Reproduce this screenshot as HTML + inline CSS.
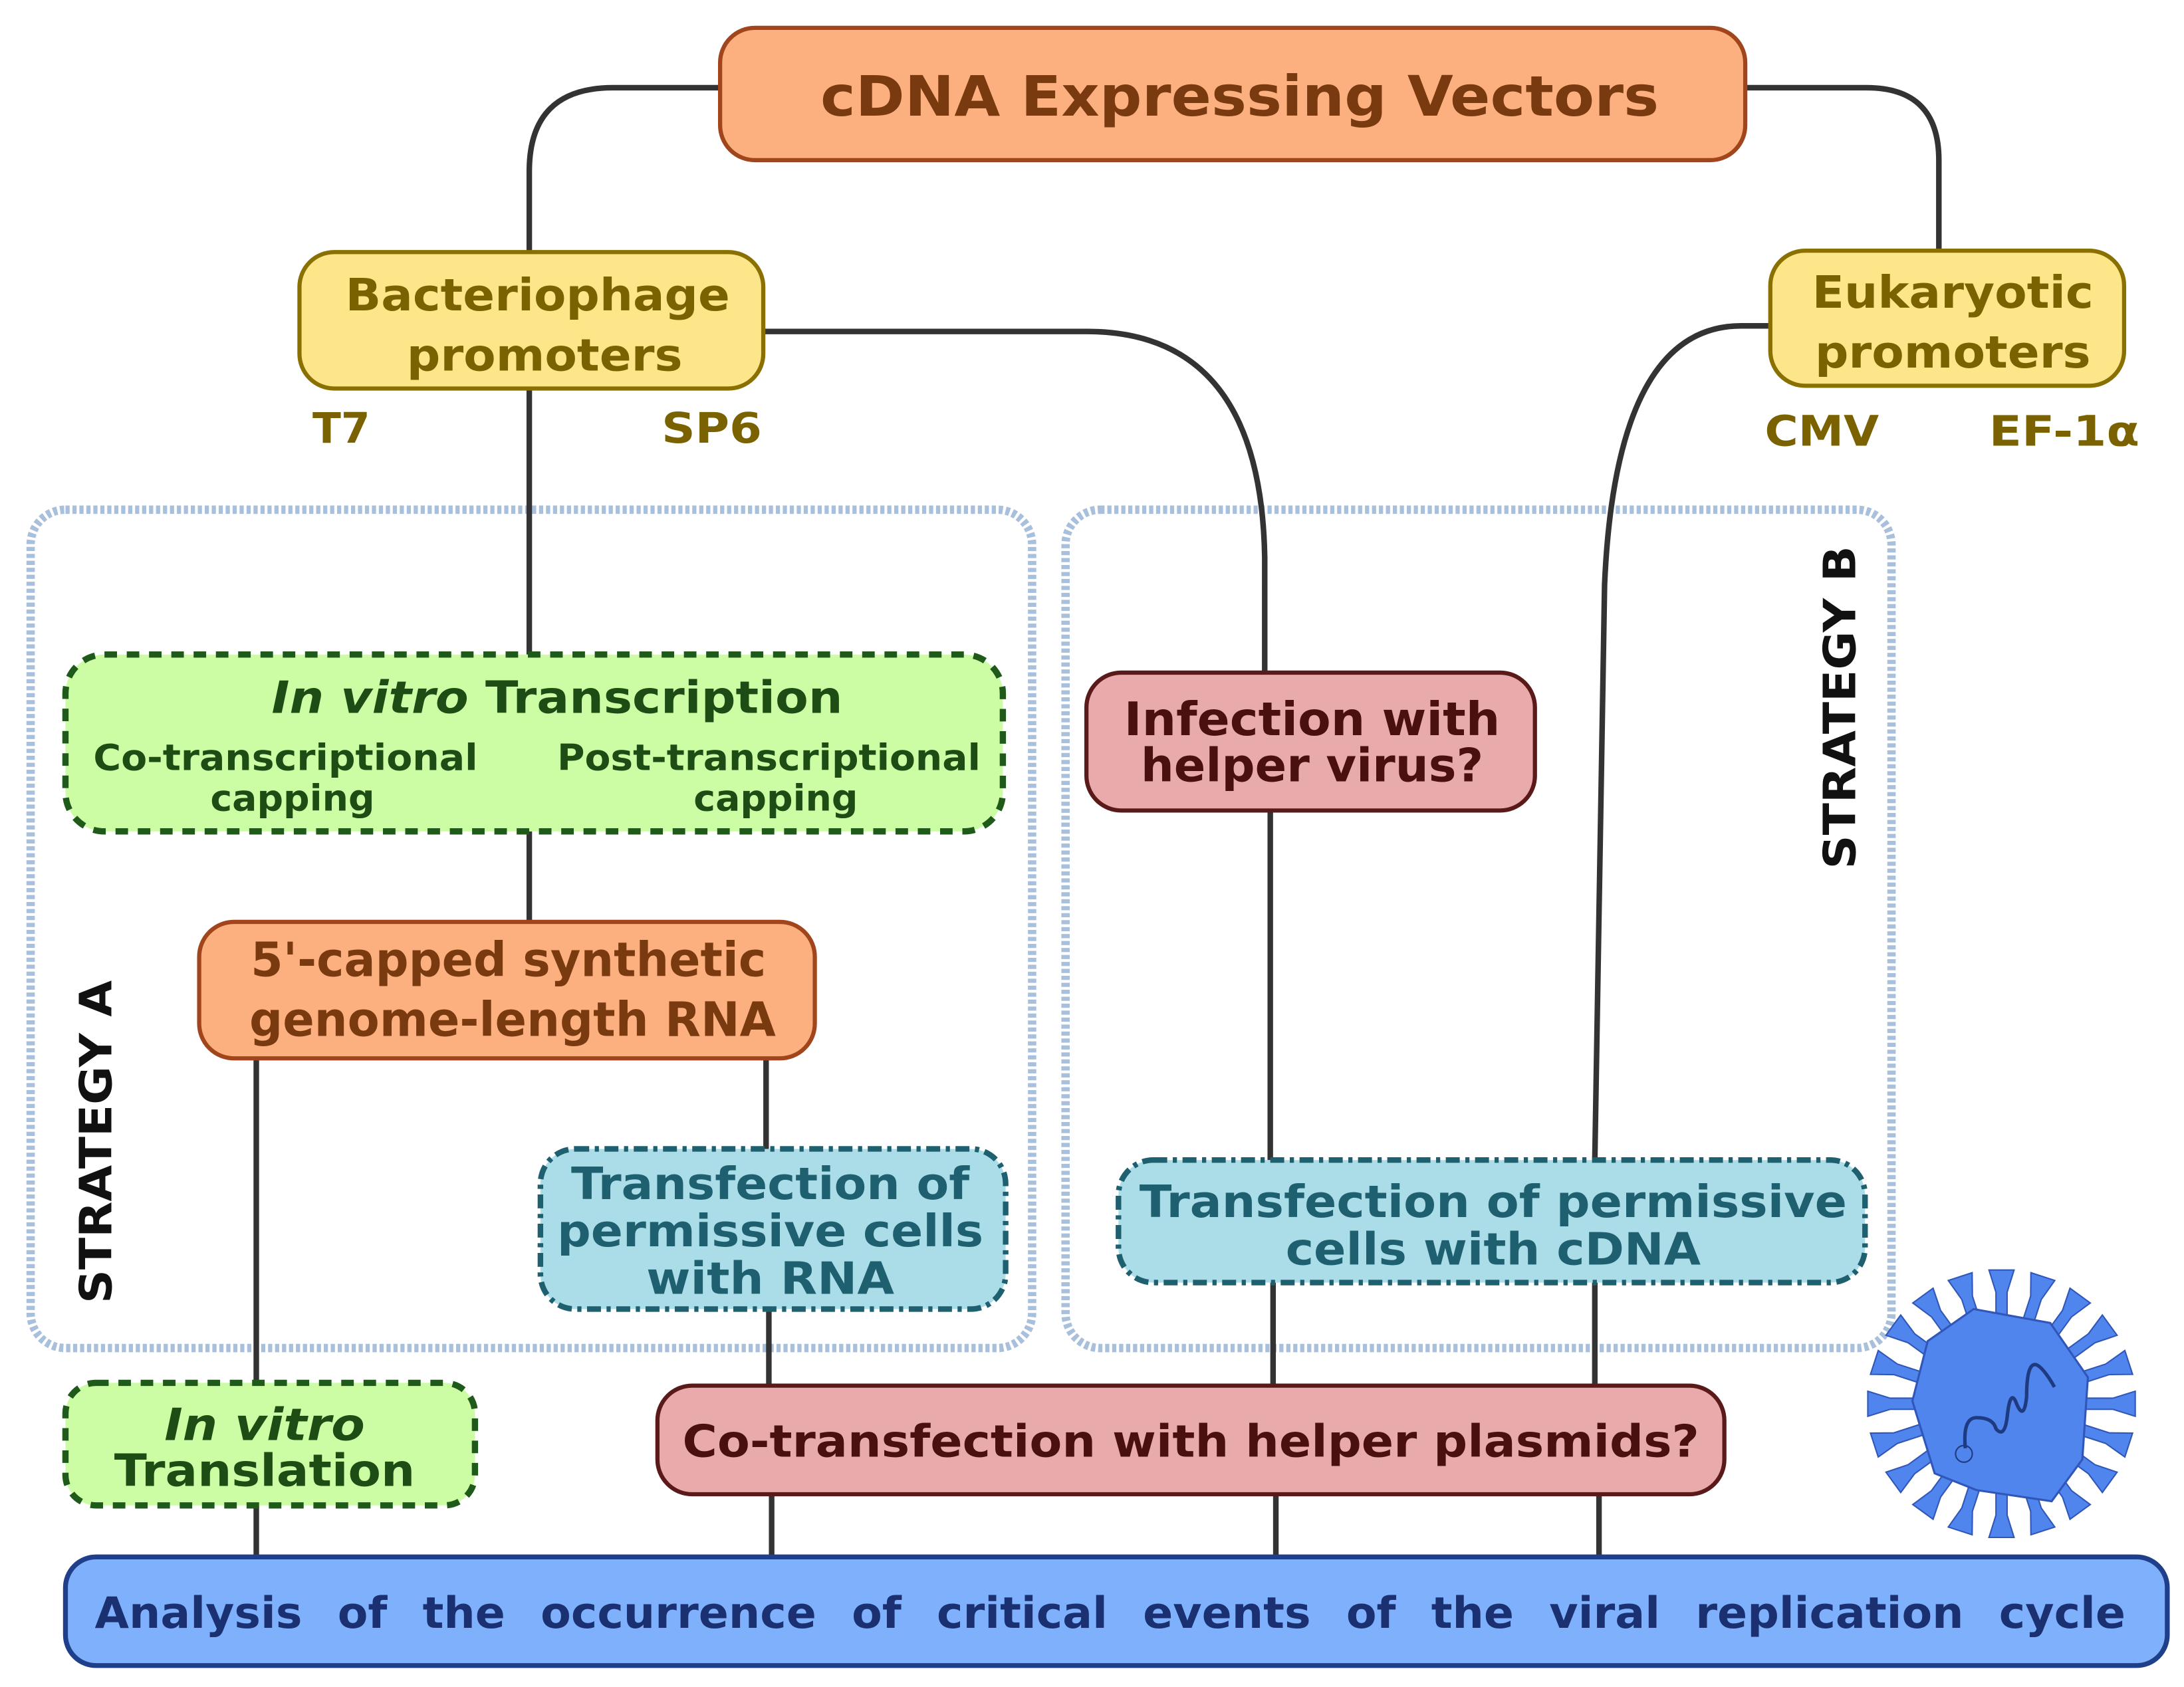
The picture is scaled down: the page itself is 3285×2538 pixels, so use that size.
<!DOCTYPE html>
<html><head><meta charset="utf-8"><style>
html,body{margin:0;padding:0;background:#fff;}
svg{display:block;}
text{font-family:"DejaVu Sans","Liberation Sans",sans-serif;font-weight:bold;}
</style></head><body>
<svg width="3285" height="2538" viewBox="0 0 1568 1211.4" preserveAspectRatio="none" xmlns="http://www.w3.org/2000/svg">
<rect width="1568" height="1212" fill="#fff"/>
<rect x="22" y="366" width="719" height="602" rx="25" fill="none" stroke="#a9c0dc" stroke-width="6" stroke-dasharray="3 2"/>
<rect x="765" y="366" width="593" height="602" rx="25" fill="none" stroke="#a9c0dc" stroke-width="6" stroke-dasharray="3 2"/>
<g fill="none" stroke="#333" stroke-width="4">
<path d="M517,63 H440 Q380,63 380,123 V470"/>
<path d="M1253,63 H1340 Q1392,63 1392,115 V180"/>
<path d="M548,238 H780 Q905,238 908,400 V483"/>
<path d="M1271,234 H1250 Q1160,234 1152,420 L1145,833"/>
<path d="M380,597 V662"/>
<path d="M184,760 V993"/>
<path d="M550,760 V825"/>
<path d="M552,940 V995"/>
<path d="M554,1073 V1118"/>
<path d="M912,582 V833"/>
<path d="M914,921 V995"/>
<path d="M916,1073 V1118"/>
<path d="M1145,921 V995"/>
<path d="M1148,1073 V1118"/>
<path d="M184,1081 V1118"/>
</g>
<rect x="517" y="20" width="736" height="95" rx="25" fill="#fdb07f" stroke="#a0451c" stroke-width="3"/>
<text x="890" y="83" font-size="40" fill="#7a3a10" text-anchor="middle" textLength="602" lengthAdjust="spacingAndGlyphs">cDNA Expressing Vectors</text>
<rect x="215" y="181" width="333" height="98" rx="25" fill="#fde68a" stroke="#8a7000" stroke-width="3"/>
<text x="386" y="223" font-size="32" fill="#7a6200" text-anchor="middle" textLength="276" lengthAdjust="spacingAndGlyphs">Bacteriophage</text>
<text x="391" y="266" font-size="32" fill="#7a6200" text-anchor="middle" textLength="198" lengthAdjust="spacingAndGlyphs">promoters</text>
<text x="245" y="318" font-size="30" fill="#7a6200" text-anchor="middle">T7</text>
<text x="511" y="318" font-size="30" fill="#7a6200" text-anchor="middle" textLength="72" lengthAdjust="spacingAndGlyphs">SP6</text>
<rect x="1271" y="180" width="254" height="97" rx="25" fill="#fde68a" stroke="#8a7000" stroke-width="3"/>
<text x="1402" y="221" font-size="32" fill="#7a6200" text-anchor="middle" textLength="202" lengthAdjust="spacingAndGlyphs">Eukaryotic</text>
<text x="1402" y="264" font-size="32" fill="#7a6200" text-anchor="middle" textLength="198" lengthAdjust="spacingAndGlyphs">promoters</text>
<text x="1308" y="320" font-size="30" fill="#7a6200" text-anchor="middle" textLength="82" lengthAdjust="spacingAndGlyphs">CMV</text>
<text x="1482" y="320" font-size="30" fill="#7a6200" text-anchor="middle" textLength="108" lengthAdjust="spacingAndGlyphs">EF-1α</text>
<rect x="47" y="470" width="673" height="127" rx="28" fill="#ccfca4" stroke="#1f5a1a" stroke-width="4.5" stroke-dasharray="9 7"/>
<text x="400" y="512" font-size="32" fill="#1d4d14" text-anchor="middle" textLength="410" lengthAdjust="spacingAndGlyphs"><tspan font-style="italic">In vitro</tspan> Transcription</text>
<text x="205" y="553" font-size="26" fill="#1d4d14" text-anchor="middle" textLength="276" lengthAdjust="spacingAndGlyphs">Co-transcriptional</text>
<text x="210" y="582" font-size="26" fill="#1d4d14" text-anchor="middle" textLength="118" lengthAdjust="spacingAndGlyphs">capping</text>
<text x="552" y="553" font-size="26" fill="#1d4d14" text-anchor="middle" textLength="304" lengthAdjust="spacingAndGlyphs">Post-transcriptional</text>
<text x="557" y="582" font-size="26" fill="#1d4d14" text-anchor="middle" textLength="118" lengthAdjust="spacingAndGlyphs">capping</text>
<rect x="143" y="662" width="442" height="98" rx="25" fill="#fdb07f" stroke="#a0451c" stroke-width="3"/>
<text x="365" y="701" font-size="34" fill="#7a3a10" text-anchor="middle" textLength="370" lengthAdjust="spacingAndGlyphs">5'-capped synthetic</text>
<text x="368" y="744" font-size="34" fill="#7a3a10" text-anchor="middle" textLength="378" lengthAdjust="spacingAndGlyphs">genome-length RNA</text>
<rect x="388" y="825" width="334" height="115" rx="25" fill="#abdde8" stroke="#1f6070" stroke-width="4" stroke-dasharray="10 4 3 4"/>
<text x="553" y="861" font-size="32" fill="#1f6070" text-anchor="middle" textLength="286" lengthAdjust="spacingAndGlyphs">Transfection of</text>
<text x="553" y="895" font-size="32" fill="#1f6070" text-anchor="middle" textLength="306" lengthAdjust="spacingAndGlyphs">permissive cells</text>
<text x="553" y="929" font-size="32" fill="#1f6070" text-anchor="middle" textLength="178" lengthAdjust="spacingAndGlyphs">with RNA</text>
<rect x="780" y="483" width="322" height="99" rx="25" fill="#e8aaaa" stroke="#5a1a1a" stroke-width="3"/>
<text x="942" y="528" font-size="33" fill="#4a1010" text-anchor="middle" textLength="270" lengthAdjust="spacingAndGlyphs">Infection with</text>
<text x="942" y="561" font-size="33" fill="#4a1010" text-anchor="middle" textLength="246" lengthAdjust="spacingAndGlyphs">helper virus?</text>
<rect x="803" y="833" width="536" height="88" rx="25" fill="#abdde8" stroke="#1f6070" stroke-width="4" stroke-dasharray="10 4 3 4"/>
<text x="1072" y="874" font-size="32" fill="#1f6070" text-anchor="middle" textLength="508" lengthAdjust="spacingAndGlyphs">Transfection of permissive</text>
<text x="1072" y="908" font-size="32" fill="#1f6070" text-anchor="middle" textLength="298" lengthAdjust="spacingAndGlyphs">cells with cDNA</text>
<rect x="472" y="995" width="766" height="78" rx="25" fill="#e8aaaa" stroke="#5a1a1a" stroke-width="3"/>
<text x="855" y="1046" font-size="32" fill="#4a1010" text-anchor="middle" textLength="730" lengthAdjust="spacingAndGlyphs">Co-transfection with helper plasmids?</text>
<rect x="47" y="993" width="294" height="88" rx="22" fill="#ccfca4" stroke="#1f5a1a" stroke-width="4.5" stroke-dasharray="9 7"/>
<text x="190" y="1034" font-size="32" fill="#1d4d14" text-anchor="middle" font-style="italic" textLength="144" lengthAdjust="spacingAndGlyphs">In vitro</text>
<text x="190" y="1067" font-size="32" fill="#1d4d14" text-anchor="middle" textLength="216" lengthAdjust="spacingAndGlyphs">Translation</text>
<rect x="47" y="1118" width="1509" height="78" rx="22" fill="#7fb0fc" stroke="#1f3f8a" stroke-width="3.5"/>
<text x="797" y="1169" font-size="31" fill="#1a3070" text-anchor="middle" word-spacing="14" textLength="1458" lengthAdjust="spacingAndGlyphs">Analysis of the occurrence of critical events of the viral replication cycle</text>
<text transform="translate(80,820) rotate(-90)" font-size="32" fill="#111" text-anchor="middle" textLength="232" lengthAdjust="spacingAndGlyphs">STRATEGY A</text>
<text transform="translate(1332,508) rotate(-90)" font-size="32" fill="#111" text-anchor="middle" textLength="232" lengthAdjust="spacingAndGlyphs">STRATEGY B</text>
<g transform="translate(1437,1008)" fill="#5185ee" stroke="#2f56b8" stroke-width="1">
<g id="sp">
<path d="M-4,-60 L-4,-80 L-9,-96 L9,-96 L4,-80 L4,-60 Z"/>
</g>
<use href="#sp" transform="rotate(18)"/><use href="#sp" transform="rotate(36)"/><use href="#sp" transform="rotate(54)"/>
<use href="#sp" transform="rotate(72)"/><use href="#sp" transform="rotate(90)"/><use href="#sp" transform="rotate(108)"/>
<use href="#sp" transform="rotate(126)"/><use href="#sp" transform="rotate(144)"/><use href="#sp" transform="rotate(162)"/>
<use href="#sp" transform="rotate(180)"/><use href="#sp" transform="rotate(198)"/><use href="#sp" transform="rotate(216)"/>
<use href="#sp" transform="rotate(234)"/><use href="#sp" transform="rotate(252)"/><use href="#sp" transform="rotate(270)"/>
<use href="#sp" transform="rotate(288)"/><use href="#sp" transform="rotate(306)"/><use href="#sp" transform="rotate(324)"/>
<use href="#sp" transform="rotate(342)"/>
<polygon points="-20,-68 35,-58 62,-19 58,40 36,70 -18,62 -48,50 -64,-2 -53,-45" stroke-width="1.5"/>
<path d="M-26,32 Q-28,10 -18,10 Q-6,10 -4,18 Q2,25 4,10 Q6,-10 10,-2 Q16,14 18,-5 Q18,-30 25,-28 Q30,-26 38,-12" fill="none" stroke="#1e3a80" stroke-width="2.5"/>
<circle cx="-27" cy="36" r="6" fill="none" stroke="#1e3a80" stroke-width="1"/>
</g>
</svg>
</body></html>
